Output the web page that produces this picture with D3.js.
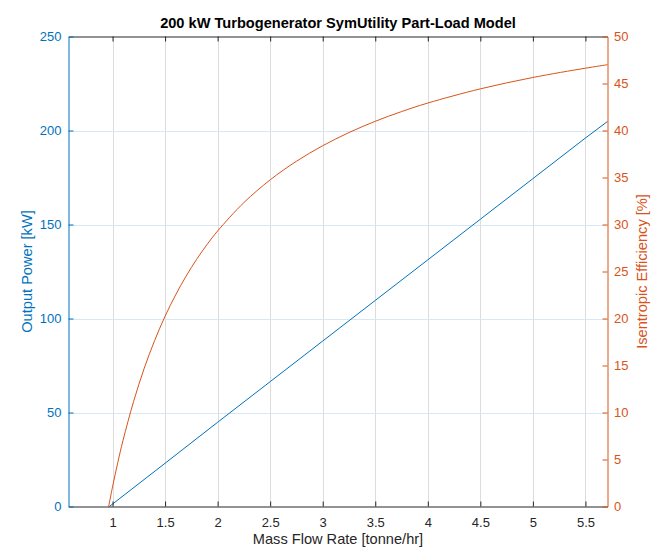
<!DOCTYPE html>
<html>
<head>
<meta charset="utf-8">
<script src="https://cdn.jsdelivr.net/npm/d3@7"></script>
<style>
  body { margin: 0; background: #fff; }
  text { font-family: "Liberation Sans", Arial, sans-serif; }
</style>
</head>
<body>
<div id="chart"></div>
<script>
(function() {
    "use strict";

    // values
    var flowPower = [0.97, 1.5, 2, 2.5, 3, 3.5, 4, 4.5, 5, 5.5, 5.71];
    var power = [0, 23, 44.8, 66.4, 88, 109.6, 131.2, 152.8, 174.4, 196, 204.8];
    var flowEff = [0.963, 1.0, 1.05, 1.1, 1.2, 1.3, 1.4, 1.5, 1.6, 1.7, 1.8, 1.9, 2.0,
                   2.25, 2.5, 2.75, 3, 3.25, 3.5, 3.75, 4, 4.5, 5, 5.5, 5.71];
    var efficiency = [0, 2.09, 4.68, 7.04, 11.16, 14.65, 17.64, 20.24, 22.50, 24.51, 26.29, 27.88, 29.31,
                      32.33, 34.75, 36.73, 38.38, 39.78, 40.98, 42.01, 42.92, 44.43, 45.64, 46.63, 47.0];
    var xTicks = [1, 1.5, 2, 2.5, 3, 3.5, 4, 4.5, 5, 5.5];
    var leftTicks = [0, 50, 100, 150, 200, 250];
    var rightTicks = [0, 5, 10, 15, 20, 25, 30, 35, 40, 45, 50];

    var blue = "#0072bd", orange = "#d95319", dark = "#262626";
    var W = 667, H = 556;
    var m = { left: 68.5, right: 607.5, top: 36.5, bottom: 506.5 };

    var x = d3.scaleLinear().domain([0.581, 5.71]).range([m.left, m.right]);
    var yL = d3.scaleLinear().domain([0, 250]).range([m.bottom, m.top]);
    var yR = d3.scaleLinear().domain([0, 50]).range([m.bottom, m.top]);

    var svg = d3.select("#chart").append("svg")
        .attr("width", W).attr("height", H);

    // grid
    svg.append("g").selectAll("line").data(xTicks).join("line")
        .attr("x1", function(d) { return Math.round(x(d)) + 0.5; })
        .attr("x2", function(d) { return Math.round(x(d)) + 0.5; })
        .attr("y1", m.top).attr("y2", m.bottom)
        .attr("stroke", "#dcdcdc").attr("stroke-width", 1);
    svg.append("g").selectAll("line").data(leftTicks.slice(1, -1)).join("line")
        .attr("x1", m.left).attr("x2", m.right)
        .attr("y1", function(d) { return Math.round(yL(d)) + 0.5; })
        .attr("y2", function(d) { return Math.round(yL(d)) + 0.5; })
        .attr("stroke", "#d6e8f4").attr("stroke-width", 1);

    // data lines
    var powerLine = d3.line()
        .x(function(d) { return x(d[0]); })
        .y(function(d) { return yL(d[1]); });
    var effLine = d3.line()
        .x(function(d) { return x(d[0]); })
        .y(function(d) { return yR(d[1]); })
        .curve(d3.curveCatmullRom.alpha(0.5));

    svg.append("path")
        .datum(d3.zip(flowPower, power))
        .attr("d", powerLine)
        .attr("fill", "none").attr("stroke", blue).attr("stroke-width", 1);
    svg.append("path")
        .datum(d3.zip(flowEff, efficiency))
        .attr("d", effLine)
        .attr("fill", "none").attr("stroke", orange).attr("stroke-width", 1);

    var tickFont = 13;

    // axes
    var xAxis = svg.append("g")
        .attr("transform", "translate(0," + m.bottom + ")")
        .call(d3.axisBottom(x).tickValues(xTicks).tickFormat(d3.format("~g"))
            .tickSizeInner(-5).tickSizeOuter(0).tickPadding(11.5));
    xAxis.select(".domain").attr("stroke", dark);
    xAxis.selectAll(".tick line").attr("stroke", dark);
    xAxis.selectAll("text").attr("fill", dark).attr("font-size", tickFont)
        .attr("font-family", "Liberation Sans, Arial, sans-serif");

    var xTop = svg.append("g")
        .attr("transform", "translate(0," + m.top + ")")
        .call(d3.axisTop(x).tickValues(xTicks).tickSizeInner(-5).tickSizeOuter(0).tickFormat(""));
    xTop.select(".domain").attr("stroke", dark);
    xTop.selectAll(".tick line").attr("stroke", dark);

    var left = svg.append("g")
        .attr("transform", "translate(" + m.left + ",0)")
        .call(d3.axisLeft(yL).tickValues(leftTicks).tickSizeInner(-5).tickSizeOuter(0).tickPadding(7));
    left.select(".domain").attr("stroke", blue);
    left.selectAll(".tick line").attr("stroke", blue);
    left.selectAll("text").attr("fill", blue).attr("font-size", tickFont)
        .attr("font-family", "Liberation Sans, Arial, sans-serif");

    var right = svg.append("g")
        .attr("transform", "translate(" + m.right + ",0)")
        .call(d3.axisRight(yR).tickValues(rightTicks).tickSizeInner(-5).tickSizeOuter(0).tickPadding(6.5));
    right.select(".domain").attr("stroke", orange);
    right.selectAll(".tick line").attr("stroke", orange);
    right.selectAll("text").attr("fill", orange).attr("font-size", tickFont)
        .attr("font-family", "Liberation Sans, Arial, sans-serif");

    // labels
    var labelFont = 14.6;
    svg.append("text")
        .attr("x", (m.left + m.right) / 2).attr("y", 27.5)
        .attr("text-anchor", "middle")
        .attr("font-size", 14.6).attr("font-weight", "bold").attr("fill", "#000")
        .text("200 kW Turbogenerator SymUtility Part-Load Model");
    svg.append("text")
        .attr("x", (m.left + m.right) / 2).attr("y", 544)
        .attr("text-anchor", "middle")
        .attr("font-size", labelFont).attr("fill", dark)
        .text("Mass Flow Rate [tonne/hr]");
    svg.append("text")
        .attr("transform", "translate(31.5," + (m.top + m.bottom) / 2 + ") rotate(-90)")
        .attr("text-anchor", "middle")
        .attr("font-size", labelFont).attr("fill", blue)
        .text("Output Power [kW]");
    svg.append("text")
        .attr("transform", "translate(647," + (m.top + m.bottom) / 2 + ") rotate(-90)")
        .attr("text-anchor", "middle")
        .attr("font-size", labelFont).attr("fill", orange)
        .text("Isentropic Efficiency [%]");
}());
</script>
</body>
</html>
